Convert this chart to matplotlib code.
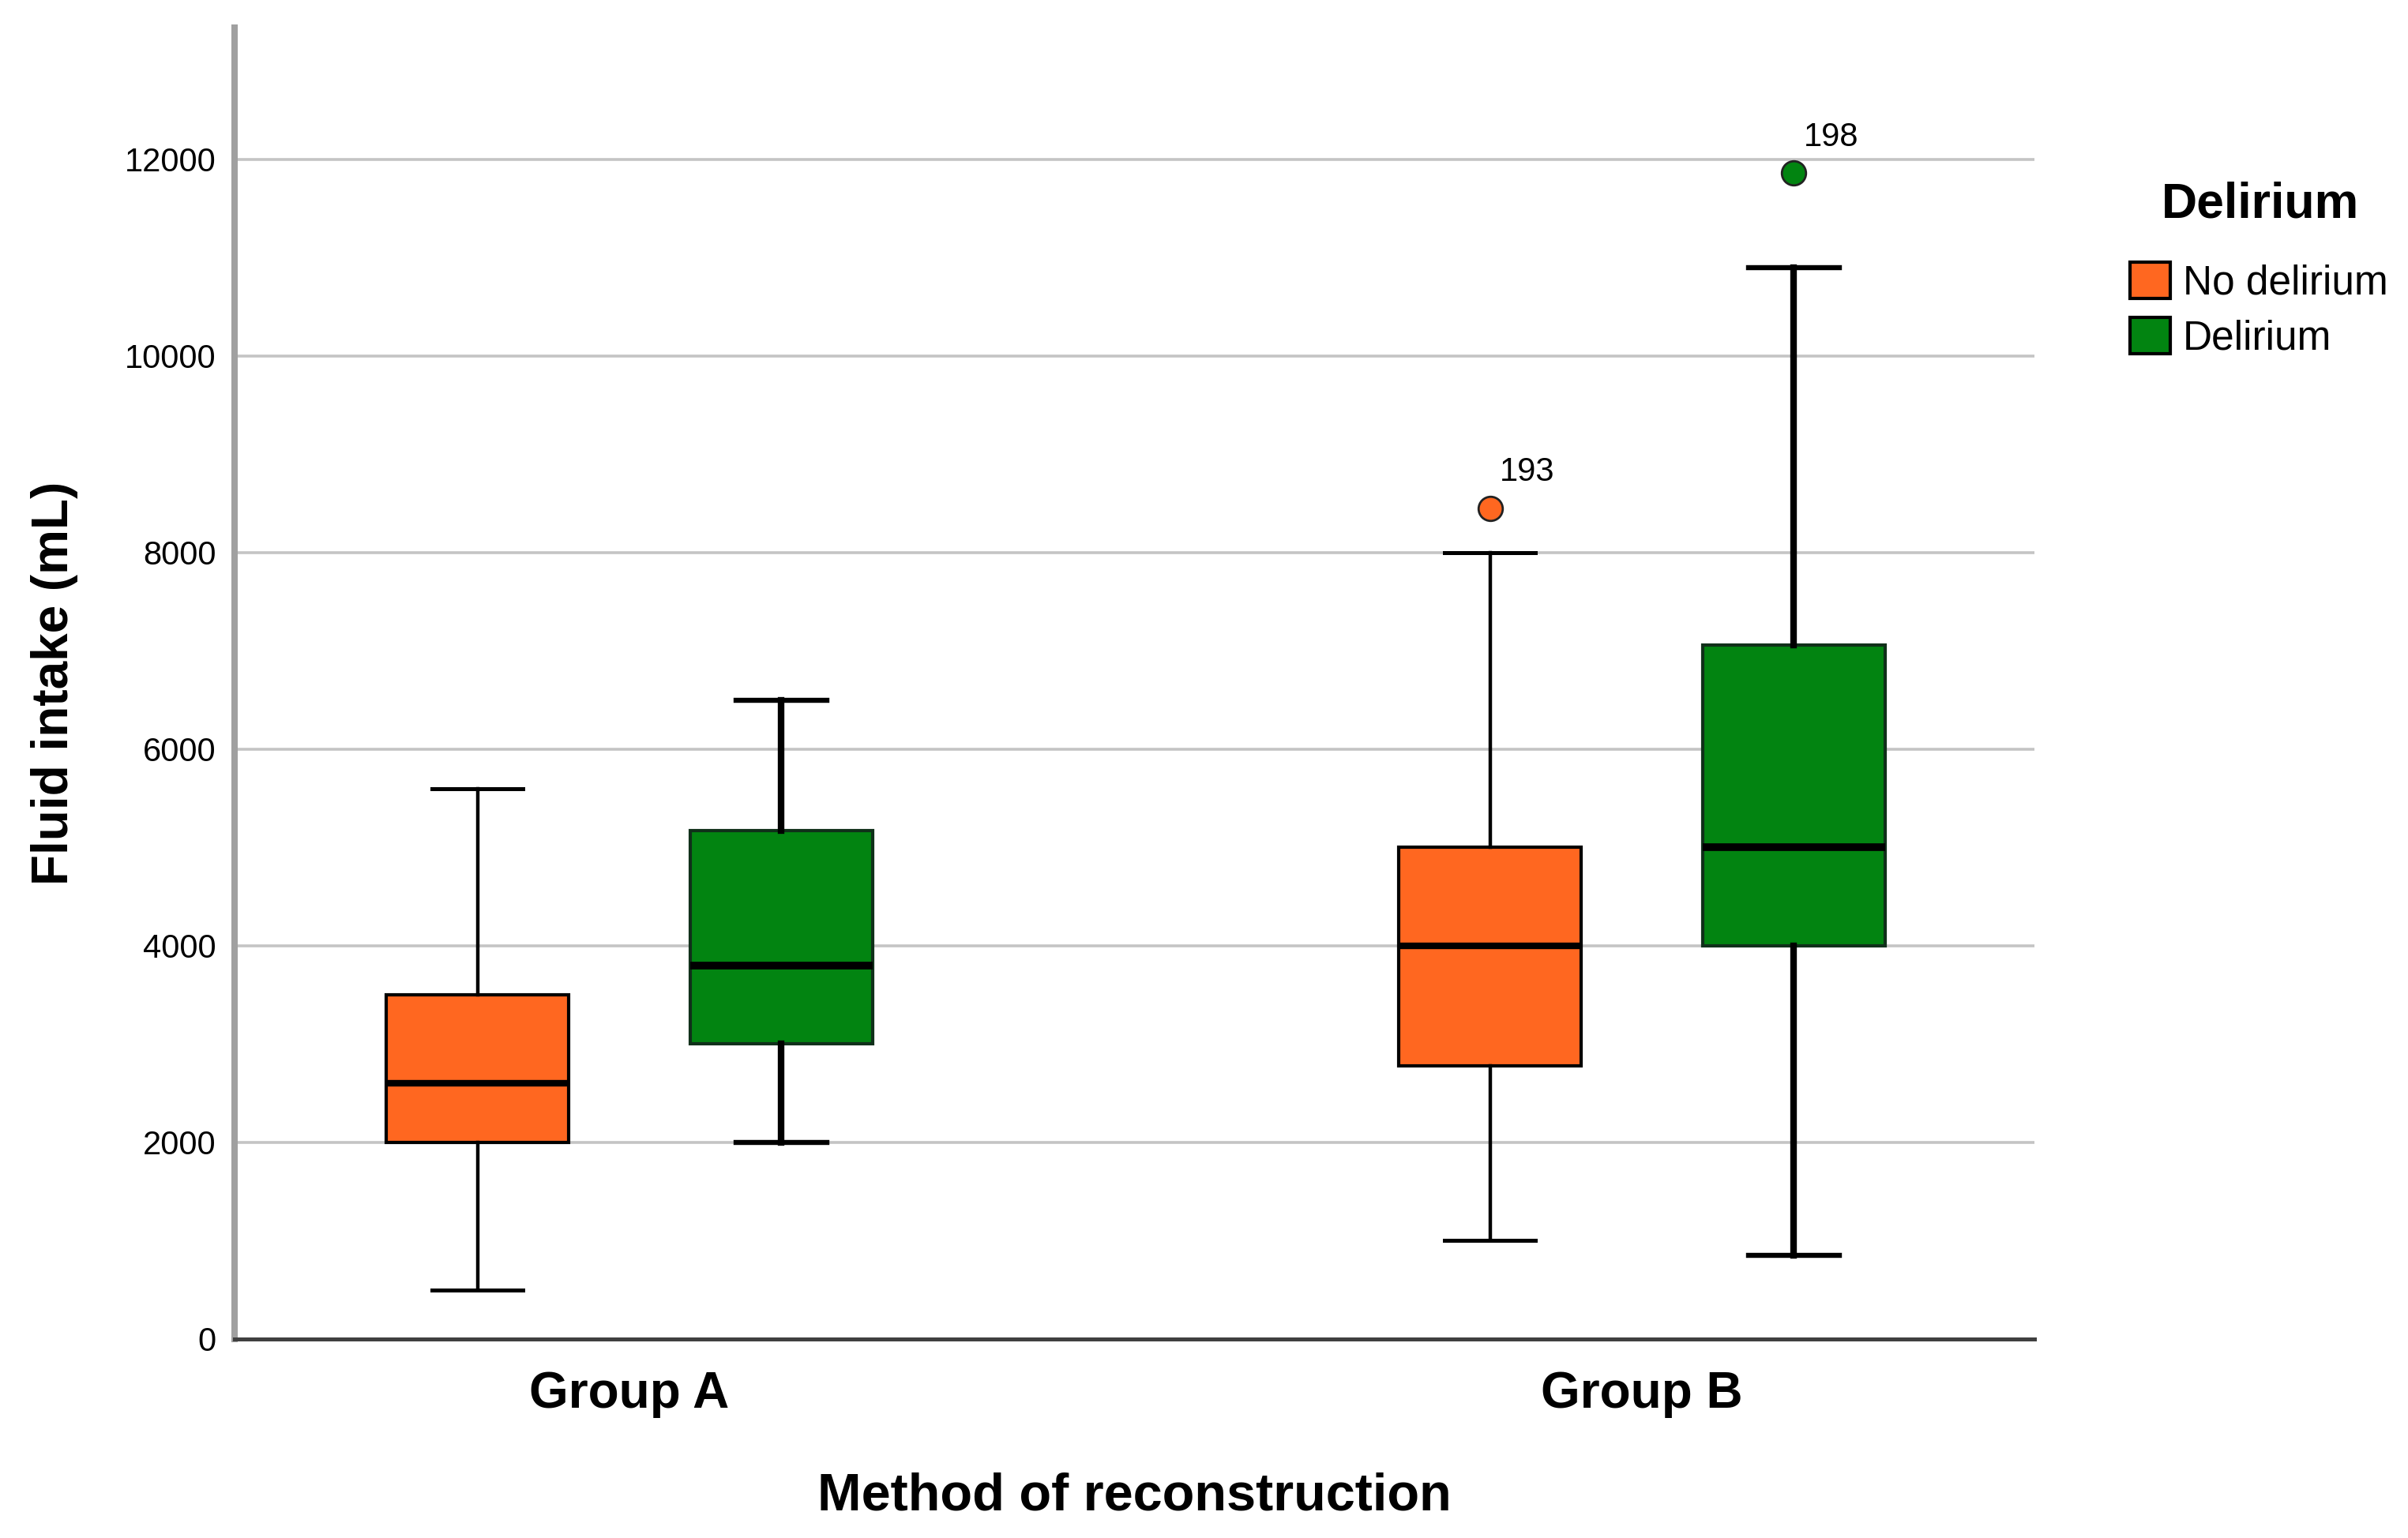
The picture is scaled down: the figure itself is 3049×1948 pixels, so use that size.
import matplotlib
matplotlib.use("Agg")
import matplotlib.pyplot as plt
from matplotlib.patches import Patch

plt.rcParams['font.family'] = ['Liberation Sans', 'DejaVu Sans']

groups = ["Group A", "Group B"]
series = ["No delirium", "Delirium"]
colors = ["#FF6720", "#028411"]

# five-number summaries per series, one entry per group
whislo = {"No delirium": [500, 1000], "Delirium": [2000, 850]}
q1 = {"No delirium": [2000, 2780], "Delirium": [3000, 4000]}
med = {"No delirium": [2600, 4000], "Delirium": [3800, 5000]}
q3 = {"No delirium": [3500, 5000], "Delirium": [5170, 7060]}
whishi = {"No delirium": [5600, 8000], "Delirium": [6500, 10900]}
fliers = {"No delirium": [[], [8450]], "Delirium": [[], [11860]]}
flier_ids = {"No delirium": [[], ["193"]], "Delirium": [[], ["198"]]}

fig = plt.figure(figsize=(30.49, 19.48), dpi=100)
ax = fig.add_axes([0.0974, 0.1294, 0.845 - 0.0974, 0.982 - 0.1294])

offsets = [-0.15, 0.15]
box_w = 0.18
line_w = {"No delirium": 3.2, "Delirium": 6.0}
cap_w = {"No delirium": 3.6, "Delirium": 4.6}
med_w = {"No delirium": 6.0, "Delirium": 7.0}
edge_c = {"No delirium": "black", "Delirium": "#10301a"}

for s, col, off in zip(series, colors, offsets):
    stats = []
    for i in range(len(groups)):
        stats.append(dict(med=med[s][i], q1=q1[s][i], q3=q3[s][i],
                          whislo=whislo[s][i], whishi=whishi[s][i],
                          fliers=fliers[s][i]))
    pos = [i + off for i in range(len(groups))]
    ax.bxp(stats, positions=pos, widths=box_w, capwidths=box_w / 2,
           patch_artist=True, showfliers=True, manage_ticks=False,
           boxprops=dict(facecolor=col, edgecolor=edge_c[s], linewidth=3.0),
           medianprops=dict(color="black", linewidth=med_w[s], solid_capstyle="butt"),
           whiskerprops=dict(color="black", linewidth=line_w[s]),
           capprops=dict(color="black", linewidth=cap_w[s]),
           flierprops=dict(marker="o", markerfacecolor=col, markeredgecolor="#222222",
                           markeredgewidth=2.0, markersize=22, linestyle="none"),
           zorder=3)
    for i in range(len(groups)):
        for val, lab in zip(fliers[s][i], flier_ids[s][i]):
            ax.annotate(lab, (i + off, val), xytext=(9, 25), textcoords="offset points",
                        ha="left", va="baseline", fontsize=30)

ax.set_xlim(-0.39, 1.388)
ax.set_ylim(0, 13340)
ax.set_yticks(range(0, 12001, 2000))
ax.set_xticks(range(len(groups)))
ax.set_xticklabels(groups, fontsize=46, fontweight="bold")
ax.tick_params(axis="y", labelsize=30, length=0, pad=17)
ax.tick_params(axis="x", length=0, pad=29)

ax.yaxis.grid(True, color="#c4c4c4", linewidth=2.6)
ax.set_axisbelow(True)

ax.spines["top"].set_visible(False)
ax.spines["right"].set_visible(False)
ax.spines["left"].set_color("#a0a0a0")
ax.spines["left"].set_linewidth(5.8)
ax.spines["bottom"].set_color("#404040")
ax.spines["bottom"].set_linewidth(3.6)

ax.set_xlabel("Method of reconstruction", fontsize=48, fontweight="bold", labelpad=49)
ax.set_ylabel("Fluid intake (mL)", fontsize=46, fontweight="bold", labelpad=42)

# legend title drawn separately so it can sit further above the entries
fig.text(2862 / 3049, 1 - 275 / 1948, "Delirium", ha="center", va="baseline",
         fontsize=45, fontweight="bold")
handles = [Patch(facecolor=c, edgecolor="black", linewidth=3, label=s)
           for s, c in zip(series, colors)]
ax.legend(handles=handles, loc="upper left",
          bbox_to_anchor=(2697 / 3049, 1 - 332 / 1948), bbox_transform=fig.transFigure,
          frameon=False, fontsize=37,
          handlelength=1.0, handleheight=1.0, handletextpad=0.3, labelspacing=0.35,
          borderpad=0, borderaxespad=0)

fig.savefig("out.png", dpi=100)
